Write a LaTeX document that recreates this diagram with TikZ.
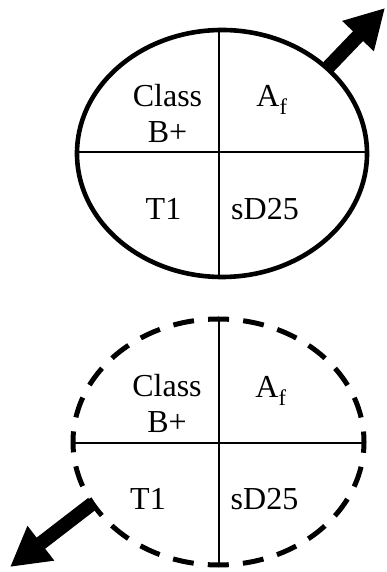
\documentclass[tikz,border=0pt]{standalone}
\usepackage{fontspec}
\setmainfont{Liberation Serif}
\usetikzlibrary{shapes.geometric,arrows.meta}
\begin{document}
\begin{tikzpicture}[x=1pt,y=1pt,
  lbl/.style={font=\fontsize{32}{36}\selectfont, inner sep=0pt, anchor=base, align=center},
  solidell/.style={ellipse, draw, line width=4.6pt, inner sep=0pt, outer sep=0pt},
  dashell/.style={ellipse, draw, line width=5pt, inner sep=0pt, outer sep=0pt, dash pattern=on 21pt off 14.2pt, dash phase=10.5pt},
  divider/.style={line width=2pt},
  bigarrow/.style={line width=14pt, -{Triangle[length=39pt,width=41pt]}}]
\useasboundingbox (0,0) rectangle (386,572);
% upper ellipse
\node[solidell, minimum width=290pt, minimum height=247pt] (E1) at (222,418.5) {};
\draw[divider] ([xshift=-2.7pt]E1.north) -- ([xshift=-2.7pt]E1.south);
\draw[divider] ([yshift=1.8pt]E1.west) -- ([yshift=1.8pt]E1.east);
\coordinate (tipA) at (385,564);
\draw[bigarrow] (E1.39) -- (tipA);
\node[lbl] (c1) at (167.5,429) {Class\\B+};
\node[lbl] (a1) at (272,465) {A\textsubscript{f}};
\node[lbl] (t1) at (163.5,352) {T1};
\node[lbl] (s1) at (265,352) {sD25};
% lower ellipse
\node[dashell, minimum width=291pt, minimum height=246pt] (E2) at (218.5,130) {};
\draw[divider] (E2.north) -- ([yshift=-2pt]E2.south);
\draw[divider] ([yshift=-1.3pt]E2.west) -- ([yshift=-1.3pt]E2.east);
\coordinate (tipB) at (10,5);
\draw[bigarrow] (E2.206) -- (tipB);
\node[lbl] (c2) at (167,139) {Class\\B+};
\node[lbl] (a2) at (271,174) {A\textsubscript{f}};
\node[lbl] (t2) at (148,62) {T1};
\node[lbl] (s2) at (264.5,62) {sD25};
\end{tikzpicture}
\end{document}
